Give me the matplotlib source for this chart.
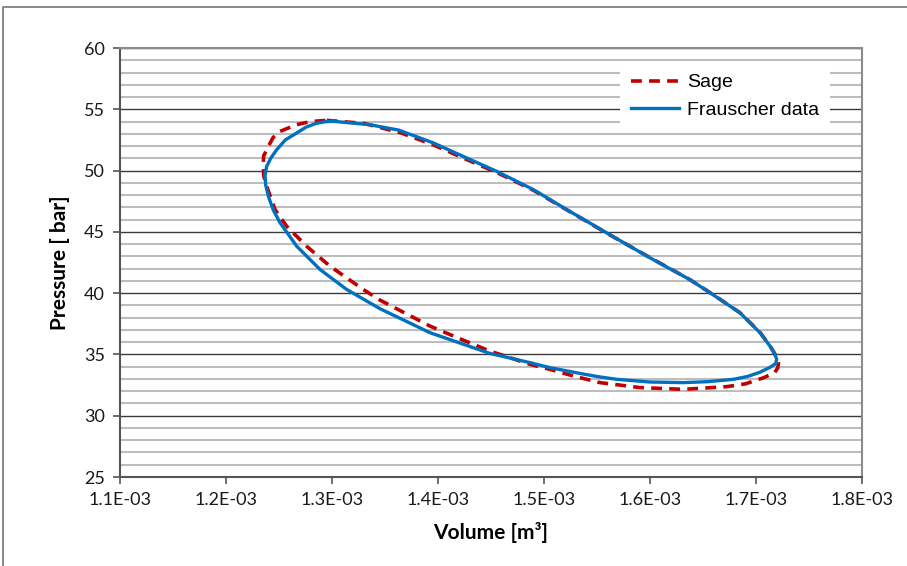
#!/usr/bin/env python

import matplotlib
matplotlib.use('Agg')

import matplotlib.pyplot as plt
from matplotlib.ticker import FuncFormatter, MultipleLocator
from matplotlib.lines import Line2D

# volume in 1E-03 m3, pressure in bar
frauscher_v = [1.3012, 1.335, 1.363, 1.3955, 1.427, 1.4553, 1.4899, 1.5214, 1.5591, 1.600,
               1.6377, 1.6566, 1.6849, 1.7038, 1.7132, 1.7175, 1.7195, 1.7185, 1.7132, 1.7038,
               1.692, 1.6786, 1.655, 1.6314, 1.600, 1.5686, 1.550, 1.534, 1.5057, 1.4868,
               1.449, 1.420, 1.3925, 1.3453, 1.3138, 1.2887, 1.2667, 1.251, 1.2445, 1.240,
               1.2375, 1.2368, 1.2384, 1.2425, 1.2478, 1.256, 1.2667, 1.2757, 1.285, 1.293,
               1.3012]
frauscher_p = [54.02, 53.75, 53.3, 52.26, 51.03, 49.94, 48.45, 46.82, 44.92, 42.88,
               41.1, 40.03, 38.4, 36.77, 35.68, 35.1, 34.6, 34.25, 33.95, 33.55,
               33.2, 32.97, 32.78, 32.7, 32.75, 32.97, 33.2, 33.45, 33.92, 34.33,
               35.08, 35.95, 36.77, 38.73, 40.3, 41.93, 43.83, 45.74, 46.8, 47.9,
               48.8, 49.6, 50.35, 51.05, 51.7, 52.5, 53.07, 53.55, 53.85, 53.98,
               54.02]

sage_v = [1.295, 1.33, 1.3642, 1.3955, 1.427, 1.4553, 1.4899, 1.5214, 1.5591, 1.600,
          1.6377, 1.6566, 1.6849, 1.7038, 1.7132, 1.718, 1.7212, 1.7205, 1.7175, 1.7072,
          1.690, 1.6723, 1.6314, 1.590, 1.5528, 1.5277, 1.5057, 1.4868, 1.449, 1.420,
          1.3925, 1.3453, 1.3295, 1.2981, 1.276, 1.2572, 1.2462, 1.2384, 1.2355, 1.2352,
          1.2355, 1.240, 1.2445, 1.251, 1.2667, 1.280, 1.295]
sage_p = [54.1, 53.85, 53.1, 52.1, 50.9, 49.85, 48.4, 46.8, 44.9, 42.9,
          41.1, 40.05, 38.4, 36.8, 35.7, 35.0, 34.3, 33.9, 33.5, 33.1,
          32.6, 32.37, 32.15, 32.3, 32.7, 33.24, 33.78, 34.19, 35.27, 36.3,
          37.31, 39.43, 40.3, 42.2, 43.83, 45.46, 46.82, 48.72, 49.6, 50.35,
          51.2, 51.98, 52.7, 53.2, 53.75, 54.0, 54.1]

plt.rcParams['font.family'] = ['Lato', 'DejaVu Sans']

fig = plt.figure(figsize=(9.07, 5.66), dpi=100)
ax = fig.add_axes([120 / 907, 1 - 477 / 566, 742 / 907, 429 / 566])

# outer chart border (only left and top edges are inside the picture)
fig.lines.append(Line2D([3 / 907, 3 / 907, 1.0], [0.0, 1 - 7 / 566, 1 - 7 / 566],
                        transform=fig.transFigure, color='#808080', lw=1.3))

ax.plot([v * 1e-3 for v in sage_v], sage_p, color='#C00000', ls=(0, (3, 2)), lw=2.6, label='Sage', zorder=3)
ax.plot([v * 1e-3 for v in frauscher_v], frauscher_p, color='#0070C0', lw=2.4, label='Frauscher data', zorder=4)

ax.set_xlim(1.1e-3, 1.8e-3)
ax.set_ylim(25, 60)
ax.xaxis.set_major_locator(MultipleLocator(1e-4))
ax.xaxis.set_major_formatter(FuncFormatter(lambda v, pos: f'{v:.1E}'))
ax.yaxis.set_major_locator(MultipleLocator(5))
ax.yaxis.set_minor_locator(MultipleLocator(1))

ax.grid(which='minor', axis='y', color='#bdbdbd', lw=1.5)
ax.grid(which='major', axis='y', color='#3a3a3a', lw=1.0)
ax.set_axisbelow(True)

for side in ['top', 'right']:
    ax.spines[side].set_color('#8c8c8c')
    ax.spines[side].set_linewidth(1.5)
for side in ['left', 'bottom']:
    ax.spines[side].set_color('#555555')
    ax.spines[side].set_linewidth(1.5)

ax.tick_params(axis='both', which='major', direction='out', length=5, width=1.2, color='#555555',
               labelsize=13, labelcolor='#1a1a1a', pad=6)
ax.tick_params(axis='y', which='minor', length=0)

ax.set_xlabel('Volume [m³]', fontsize=15, fontweight='bold', labelpad=10)
ax.set_ylabel('Pressure [ bar]', fontsize=15, fontweight='bold', labelpad=10)

leg = ax.legend(loc='upper right', bbox_to_anchor=(0.957, 0.965), frameon=True, fancybox=False,
                edgecolor='none', facecolor='white', framealpha=1, handlelength=2.5,
                prop={'family': 'Liberation Sans', 'size': 14}, borderpad=0.55, labelspacing=0.5,
                handletextpad=0.4, borderaxespad=0)

plt.savefig('out.png', dpi=100)
